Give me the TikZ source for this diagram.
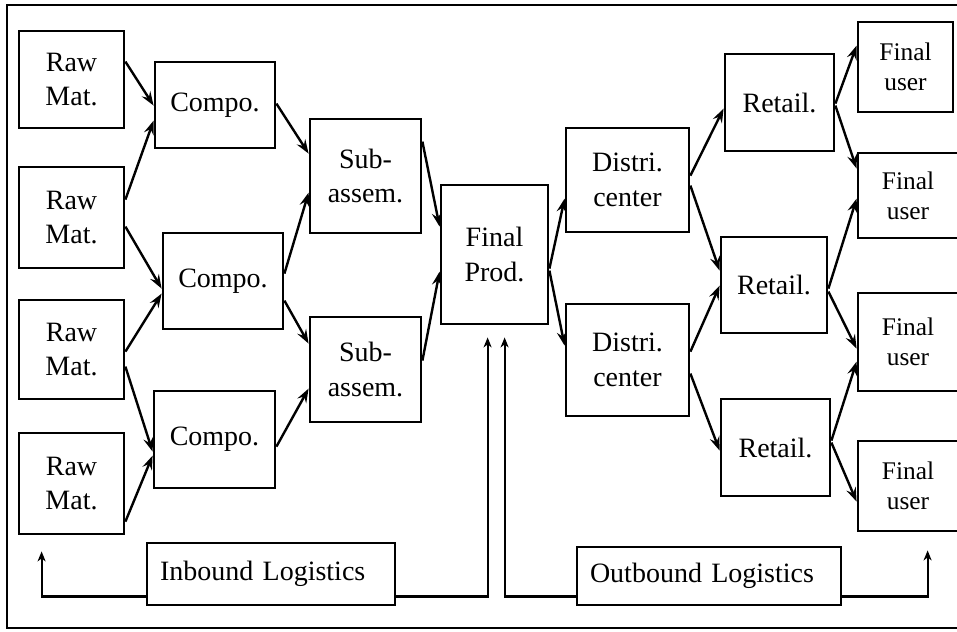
\documentclass[tikz,border=0pt]{standalone}
\usepackage{fontspec}
\setmainfont{Liberation Serif}
\usetikzlibrary{arrows.meta,calc}
\tikzset{
  box/.style={draw, line width=1.4pt, rectangle, align=center, inner sep=0pt,
    font=\fontsize{14}{17.3}\selectfont},
  userbox/.style={box, font=\fontsize{12.7}{15}\selectfont},
  logbox/.style={draw, line width=1.4pt, rectangle, align=left, inner xsep=6.5pt,
    inner ysep=0pt, font=\fontsize{14}{17.3}\selectfont},
  flow/.style={line width=1.2pt, -{Stealth[length=7pt,width=5pt,inset=2.5pt]}},
  feed/.style={line width=1.1pt, -{Stealth[length=5pt,width=4pt,inset=1.5pt]}},
}
\begin{document}
\begin{tikzpicture}[x=0.5pt,y=-0.5pt]
\useasboundingbox (0,0) rectangle (957,631);
% outer frame
\draw[line width=1.4pt] (958,5) -- (7,5) -- (7,628) -- (958,628);

% raw materials
\node[box, minimum width=52.5pt, minimum height=48.5pt] (rm1) at (71.5,79.5) {Raw\\Mat.};
\node[box, minimum width=52.5pt, minimum height=50.5pt] (rm2) at (71.5,217.5) {Raw\\Mat.};
\node[box, minimum width=52.5pt, minimum height=49.5pt] (rm3) at (71.5,349.5) {Raw\\Mat.};
\node[box, minimum width=52.5pt, minimum height=50.5pt] (rm4) at (71.5,483.5) {Raw\\Mat.};
% components
\node[box, minimum width=60pt, minimum height=43pt] (c1) at (215,105) {Compo.};
\node[box, minimum width=60pt, minimum height=48pt] (c2) at (223,281) {Compo.};
\node[box, minimum width=60.5pt, minimum height=48.5pt] (c3) at (214.5,439.5) {Compo.};
% sub-assemblies
\node[box, minimum width=55.5pt, minimum height=57pt] (sa1) at (365.5,176) {Sub-\\assem.};
\node[box, minimum width=55.5pt, minimum height=52.5pt] (sa2) at (365.5,369.5) {Sub-\\assem.};
% final product
\node[box, minimum width=53.5pt, minimum height=69.5pt] (fp) at (494.5,254.5) {Final\\Prod.};
% distribution centers
\node[box, minimum width=61.5pt, minimum height=52pt] (d1) at (627.5,180) {Distri.\\center};
\node[box, minimum width=61.5pt, minimum height=56pt] (d2) at (627.5,360) {Distri.\\center};
% retailers
\node[box, minimum width=54.5pt, minimum height=48.5pt] (r1) at (779.5,102.5) {Retail.};
\node[box, minimum width=53pt, minimum height=48pt] (r2) at (774,285) {Retail.};
\node[box, minimum width=54.5pt, minimum height=48.5pt] (r3) at (775.5,447.5) {Retail.};
% final users
\node[userbox, minimum width=47.5pt, minimum height=45pt] (fu1) at (905.5,67) {Final\\user};
\node[userbox, minimum width=50pt, minimum height=42.5pt] (fu2) at (908,195.5) {Final\\user};
\node[userbox, minimum width=50pt, minimum height=49pt] (fu3) at (908,342) {Final\\user};
\node[userbox, minimum width=50pt, minimum height=45pt] (fu4) at (908,486) {Final\\user};
% logistics
\node[logbox, text width=111pt, minimum height=31pt] (inb) at (271,574) {Inbound Logistics};
\node[logbox, text width=119pt, minimum height=29pt] (outb) at (709,576) {Outbound Logistics};

% raw -> components
\draw[flow] ($(rm1.north east)+(0,32)$) -- ($(c1.north west)+(0,45)$);
\draw[flow] ($(rm2.north east)+(0,34)$) -- ($(c1.north west)+(0,60)$);
\draw[flow] ($(rm2.north east)+(0,61)$) -- ($(c2.north west)+(0,57)$);
\draw[flow] ($(rm3.north east)+(0,53)$) -- ($(c2.north west)+(0,62)$);
\draw[flow] ($(rm3.north east)+(0,68)$) -- ($(c3.north west)+(0,62)$);
\draw[flow] ($(rm4.north east)+(0,90)$) -- ($(c3.north west)+(0,66)$);
% components -> sub-assemblies
\draw[flow] ($(c1.north east)+(0,43)$) -- ($(sa1.north west)+(0,36)$);
\draw[flow] ($(c2.north east)+(0,42)$) -- ($(sa1.north west)+(0,75)$);
\draw[flow] ($(c2.north east)+(0,69)$) -- ($(sa2.north west)+(0,28)$);
\draw[flow] ($(c3.north east)+(0,57)$) -- ($(sa2.north west)+(0,73)$);
% sub-assemblies -> final product
\draw[flow] ($(sa1.north east)+(0,24)$) -- ($(fp.north west)+(0,43)$);
\draw[flow] ($(sa2.north east)+(0,45)$) -- ($(fp.north west)+(0,88)$);
% final product -> distribution
\draw[flow] ($(fp.north east)+(0,85)$) -- ($(d1.north west)+(0,72)$);
\draw[flow] ($(fp.north east)+(0,87)$) -- ($(d2.north west)+(0,43)$);
% distribution -> retail
\draw[flow] ($(d1.north east)+(0,49)$) -- ($(r1.north west)+(0,56)$);
\draw[flow] ($(d1.north east)+(0,59)$) -- ($(r2.north west)+(0,35)$);
\draw[flow] ($(d2.north east)+(0,49)$) -- ($(r2.north west)+(0,50)$);
\draw[flow] ($(d2.north east)+(0,71)$) -- ($(r3.north west)+(0,53)$);
% retail -> final users
\draw[flow] ($(r1.north east)+(0,51)$) -- ($(fu1.north west)+(0,25)$);
\draw[flow] ($(r1.north east)+(0,53)$) -- ($(fu2.north west)+(0,17)$);
\draw[flow] ($(r2.north east)+(0,53)$) -- ($(fu2.north west)+(0,47)$);
\draw[flow] ($(r2.north east)+(0,56)$) -- ($(fu3.north west)+(0,57)$);
\draw[flow] ($(r3.north east)+(0,43)$) -- ($(fu3.north west)+(0,70)$);
\draw[flow] ($(r3.north east)+(0,45)$) -- ($(fu4.north west)+(0,62)$);

% logistics feedback lines
\draw[feed] ($(inb.south west)+(0,-10)$) -| ($(rm4.south west)+(24,16)$);
\draw[feed] ($(inb.south east)+(0,-10)$) -| ($(fp.south west)+(48,12)$);
\draw[feed] ($(outb.south west)+(0,-10)$) -| ($(fp.south west)+(65,12)$);
\draw[feed] ($(outb.south east)+(0,-10)$) -| ($(fu4.south west)+(71,18)$);
\end{tikzpicture}
\end{document}
